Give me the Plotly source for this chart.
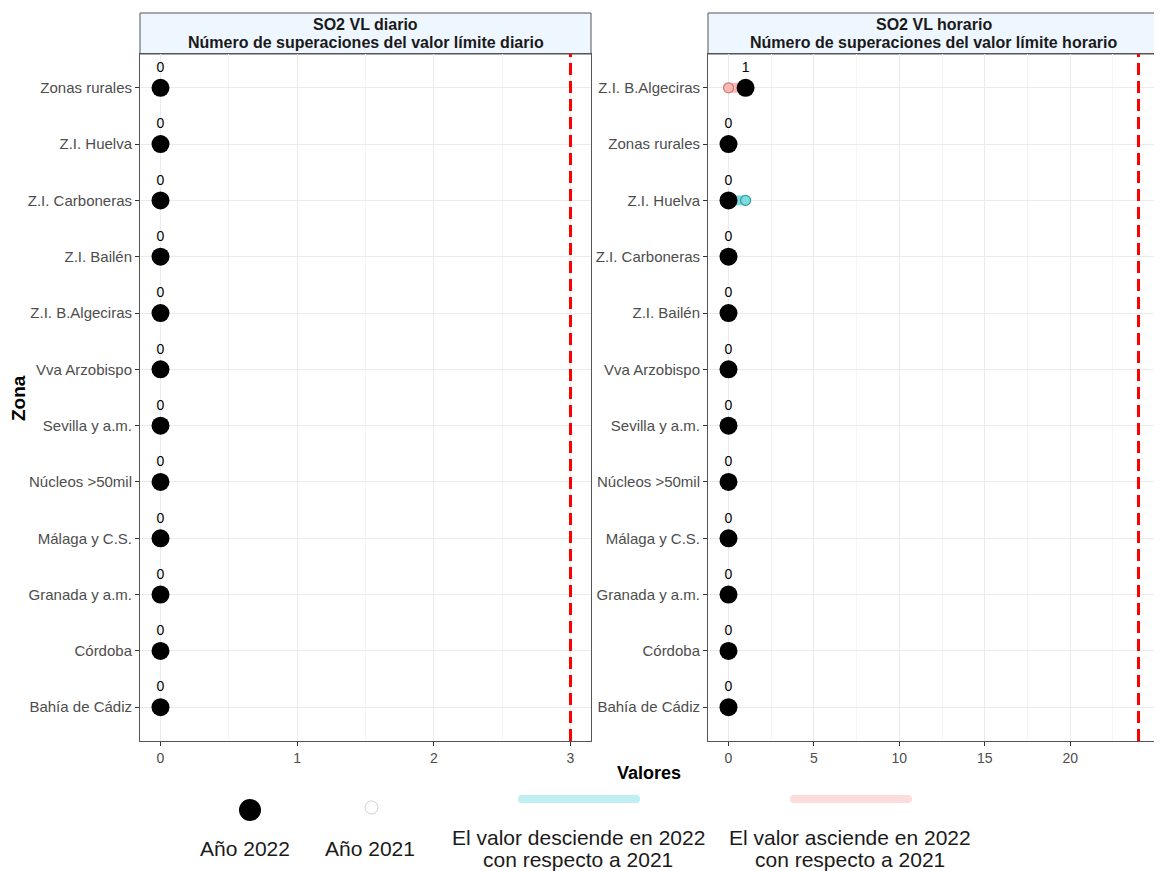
import plotly.graph_objects as go

# ---------------- data ----------------
cats_left = ["Zonas rurales", "Z.I. Huelva", "Z.I. Carboneras", "Z.I. Bailén", "Z.I. B.Algeciras",
             "Vva Arzobispo", "Sevilla y a.m.", "Núcleos >50mil", "Málaga y C.S.",
             "Granada y a.m.", "Córdoba", "Bahía de Cádiz"]
left_2022 = [0, 0, 0, 0, 0, 0, 0, 0, 0, 0, 0, 0]
left_2021 = [0, 0, 0, 0, 0, 0, 0, 0, 0, 0, 0, 0]
left_limit = 3
left_ticks = [0, 1, 2, 3]

cats_right = ["Z.I. B.Algeciras", "Zonas rurales", "Z.I. Huelva", "Z.I. Carboneras", "Z.I. Bailén",
              "Vva Arzobispo", "Sevilla y a.m.", "Núcleos >50mil", "Málaga y C.S.",
              "Granada y a.m.", "Córdoba", "Bahía de Cádiz"]
right_2022 = [1, 0, 0, 0, 0, 0, 0, 0, 0, 0, 0, 0]
right_2021 = [0, 0, 1, 0, 0, 0, 0, 0, 0, 0, 0, 0]
right_limit = 24
right_ticks = [0, 5, 10, 15, 20, 25]

titles = [["SO2 VL diario", "Número de superaciones del valor límite diario"],
          ["SO2 VL horario", "Número de superaciones del valor límite horario"]]

# ---------------- style ----------------
OFF = 8                      # page body margin
W, H = 1162 - OFF, 871 - OFF
FONT = "Liberation Sans, Arial, sans-serif"
UP_SEG = "#F9B8B3"
DOWN_SEG = "#7FDCDE"
UP_LINE = "#C87E7A"
DOWN_LINE = "#2E9EA2"

def px_x(p):
    return (p - OFF) / W

def px_y(p):
    return 1 - (p - OFF) / H

fig = go.Figure()

panels = [
    dict(cats=cats_left, v22=left_2022, v21=left_2021, limit=left_limit, ticks=left_ticks,
         xr=[-0.15, 3.15], minor=0.5, dom=[px_x(140), px_x(591)], xa="x", ya="y"),
    dict(cats=cats_right, v22=right_2022, v21=right_2021, limit=right_limit, ticks=right_ticks,
         xr=[-1.2, 25.2], minor=2.5, dom=[px_x(708), px_x(1159)], xa="x2", ya="y2"),
]

ydom = [px_y(741), px_y(54)]

for i, p in enumerate(panels):
    xa, ya = p["xa"], p["ya"]
    # segments
    for c, a, b in zip(p["cats"], p["v21"], p["v22"]):
        if a != b:
            col = UP_SEG if b > a else DOWN_SEG
            fig.add_trace(go.Scatter(x=[a, b], y=[c, c], mode="lines",
                                     line=dict(color=col, width=10), xaxis=xa, yaxis=ya,
                                     showlegend=False, hoverinfo="skip"))
    # 2021 points
    fills, edges = [], []
    for a, b in zip(p["v21"], p["v22"]):
        if b > a:
            fills.append(UP_SEG); edges.append(UP_LINE)
        elif b < a:
            fills.append(DOWN_SEG); edges.append(DOWN_LINE)
        else:
            fills.append("white"); edges.append("#BBBBBB")
    fig.add_trace(go.Scatter(x=p["v21"], y=p["cats"], mode="markers",
                             marker=dict(size=10, color=fills, line=dict(color=edges, width=1.2)),
                             xaxis=xa, yaxis=ya, showlegend=False))
    # 2022 points with labels
    fig.add_trace(go.Scatter(x=p["v22"], y=p["cats"], mode="markers+text",
                             marker=dict(size=18, color="black"),
                             text=[str(v) for v in p["v22"]], textposition="top center",
                             textfont=dict(size=14, color="black", family=FONT),
                             xaxis=xa, yaxis=ya, showlegend=False))
    # limit line
    fig.add_shape(type="line", xref=xa, yref=f"{ya} domain", x0=p["limit"], x1=p["limit"],
                  y0=0, y1=1, line=dict(color="#FF0000", width=3, dash="12px,6px"))
    # strip
    fig.add_shape(type="rect", xref="paper", yref="paper", x0=p["dom"][0], x1=p["dom"][1],
                  y0=ydom[1], y1=px_y(13), fillcolor="#EEF6FF",
                  line=dict(color="#555555", width=1), layer="below")
    cx = (p["dom"][0] + p["dom"][1]) / 2
    for t, yy in zip(titles[i], [25, 42]):
        fig.add_annotation(xref="paper", yref="paper", x=cx, y=px_y(yy), text=f"<b>{t}</b>",
                           showarrow=False, xanchor="center", yanchor="middle",
                           font=dict(size=16, color="#1A1A1A", family=FONT))

    axis_common = dict(showline=True, linecolor="#555555", linewidth=1, mirror=True,
                       ticks="outside", ticklen=4, tickcolor="#333333",
                       tickfont=dict(size=14, color="#4D4D4D", family=FONT),
                       gridcolor="#EBEBEB", zeroline=False)
    xkey = "xaxis" if xa == "x" else "xaxis2"
    ykey = "yaxis" if ya == "y" else "yaxis2"
    fig.update_layout(**{
        xkey: dict(domain=p["dom"], range=p["xr"], tickvals=p["ticks"], anchor=ya,
                   minor=dict(dtick=p["minor"], tick0=0, showgrid=True, gridcolor="#F5F5F5"),
                   **axis_common),
        ykey: dict(domain=ydom, type="category", categoryorder="array",
                   categoryarray=list(reversed(p["cats"])), range=[-0.6, 11.6], anchor=xa,
                   **{**axis_common, "tickfont": dict(size=15, color="#4D4D4D", family=FONT)}),
    })

# axis titles
fig.add_annotation(xref="paper", yref="paper", x=px_x(649), y=px_y(773), text="<b>Valores</b>",
                   showarrow=False, xanchor="center", yanchor="middle",
                   font=dict(size=18, color="black", family=FONT))
fig.add_annotation(xref="paper", yref="paper", x=px_x(18), y=px_y(398), text="<b>Zona</b>",
                   showarrow=False, textangle=-90, xanchor="center", yanchor="middle",
                   font=dict(size=19, color="black", family=FONT))

# ---------------- legend (drawn manually) ----------------
fig.add_shape(type="circle", xref="paper", yref="paper", x0=px_x(239), x1=px_x(261),
              y0=px_y(821), y1=px_y(799), fillcolor="black", line=dict(color="black", width=0))
fig.add_shape(type="circle", xref="paper", yref="paper", x0=px_x(365), x1=px_x(378),
              y0=px_y(814), y1=px_y(801), fillcolor="white", line=dict(color="#D0D0D0", width=1))
for (x0, x1, col) in [(518, 640, "#BFEFF0"), (790, 912, "#FDDDDB")]:
    fig.add_shape(type="rect", xref="paper", yref="paper", x0=px_x(x0 + 4), x1=px_x(x1 - 4),
                  y0=px_y(803), y1=px_y(795), fillcolor=col, line=dict(width=0))
    for cxp in (x0 + 4, x1 - 4):
        fig.add_shape(type="circle", xref="paper", yref="paper", x0=px_x(cxp - 4), x1=px_x(cxp + 4),
                      y0=px_y(803), y1=px_y(795), fillcolor=col, line=dict(width=0))

leg_texts = [(245, 848, "Año 2022"), (370, 848, "Año 2021"),
             (578, 837, "El valor desciende en 2022"), (578, 859, "con respecto a 2021"),
             (850, 837, "El valor asciende en 2022"), (850, 859, "con respecto a 2021")]
for x, y, t in leg_texts:
    fig.add_annotation(xref="paper", yref="paper", x=px_x(x), y=px_y(y), text=t, showarrow=False,
                       xanchor="center", yanchor="middle",
                       font=dict(size=21, color="#1A1A1A", family=FONT))

fig.update_layout(width=W, height=H, margin=dict(l=0, r=0, t=0, b=0),
                  plot_bgcolor="white", paper_bgcolor="white", showlegend=False,
                  font=dict(family=FONT))

fig.write_html("out.html")
